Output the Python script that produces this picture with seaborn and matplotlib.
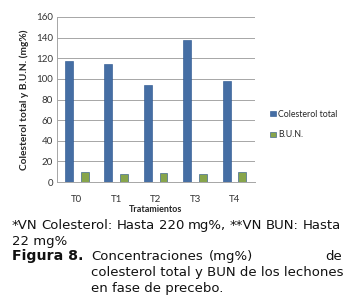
import numpy as np
import pandas as pd
import seaborn as sns
import matplotlib.pyplot as plt

# Values
tratamientos = ['T0', 'T1', 'T2', 'T3', 'T4']
colesterol = [117, 114, 94, 138, 98]
bun = [10, 8, 8.5, 7.5, 10]
series = ['Colesterol total', 'B.U.N.']

df = pd.DataFrame({
    'Tratamiento': tratamientos * 2,
    'Valor': colesterol + bun,
    'Serie': [series[0]] * len(tratamientos) + [series[1]] * len(tratamientos),
})

sns.set_style('white')
plt.rcParams['font.family'] = ['Lato', 'DejaVu Sans']

fig = plt.figure(figsize=(3.49, 3.07), dpi=100)
W, H = 349, 307
# axes box in pixels: left 57, right 255, top 17, bottom 182
ax = fig.add_axes([57 / W, 1 - 182 / H, (255 - 57) / W, (182 - 17) / H])

sns.barplot(data=df, x='Tratamiento', y='Valor', hue='Serie', ax=ax,
            palette=['#356CB4', '#8CB43C'], width=0.8, gap=0.5,
            edgecolor='#24518C', linewidth=0.4, legend=True)

ax.set_ylim(0, 160)
ax.set_yticks(range(0, 161, 20))
ax.yaxis.grid(True, color='#A6A6A6', linewidth=0.7)
ax.set_axisbelow(True)
for s in ['top', 'right']:
    ax.spines[s].set_visible(False)
for s in ['left', 'bottom']:
    ax.spines[s].set_color('#A6A6A6')
    ax.spines[s].set_linewidth(0.7)
ax.tick_params(axis='both', labelsize=7, colors='#333333', length=0, pad=3)
ax.set_xticks(np.arange(len(tratamientos)))
ax.set_xticks(np.arange(-0.5, len(tratamientos), 1), minor=True)
ax.tick_params(axis='x', which='minor', length=4, color='#A6A6A6', width=0.7)
ax.tick_params(axis='x', pad=9)
ax.set_xlim(-0.5, len(tratamientos) - 0.5 + 0.02)

ax.set_xlabel('Tratamientos', fontsize=6.5, fontweight='bold', labelpad=1)
ax.set_ylabel('Colesterol total y B.U.N. (mg%)', fontsize=7.3, fontweight='bold')
ax.yaxis.set_label_coords(-(57 - 29) / (255 - 57), 0.5)

leg = ax.legend(loc='upper left', bbox_to_anchor=(1.06, 0.46), frameon=False,
                fontsize=6.3, handlelength=0.6, handleheight=0.6,
                handletextpad=0.3, labelspacing=1.35, borderaxespad=0)

# caption text below the chart (baseline positions in pixels)
cap = dict(fontsize=9.5, family='DejaVu Sans', va='baseline', color='#111111')

# first line is justified between x=12 and x=341
words = '*VN Colesterol: Hasta 220 mg%, **VN BUN: Hasta'.split()
fig.canvas.draw()
r = fig.canvas.get_renderer()
tmp = [fig.text(0, 0, w_, **cap) for w_ in words]
widths = [t.get_window_extent(r).width for t in tmp]
for t in tmp:
    t.remove()
gap = (341 - 12 - sum(widths)) / (len(words) - 1)
x = 12
for w_, wd in zip(words, widths):
    fig.text(x / W, 1 - 229 / H, w_, ha='left', **cap)
    x += wd + gap

fig.text(12 / W, 1 - 245 / H, '22 mg%', ha='left', **cap)
fig.text(12 / W, 1 - 260 / H, 'Figura 8.', fontsize=10.2, fontweight='bold',
         family='DejaVu Sans', va='baseline', ha='left', color='#111111')
fig.text(91 / W, 1 - 260 / H, 'Concentraciones', ha='left', **cap)
fig.text(231 / W, 1 - 260 / H, '(mg%)', ha='center', **cap)
fig.text(342 / W, 1 - 260 / H, 'de', ha='right', **cap)
fig.text(91 / W, 1 - 276 / H, 'colesterol total y BUN de los lechones', ha='left', **cap)
fig.text(91 / W, 1 - 292 / H, 'en fase de precebo.', ha='left', **cap)

fig.savefig('out.png', dpi=100)
